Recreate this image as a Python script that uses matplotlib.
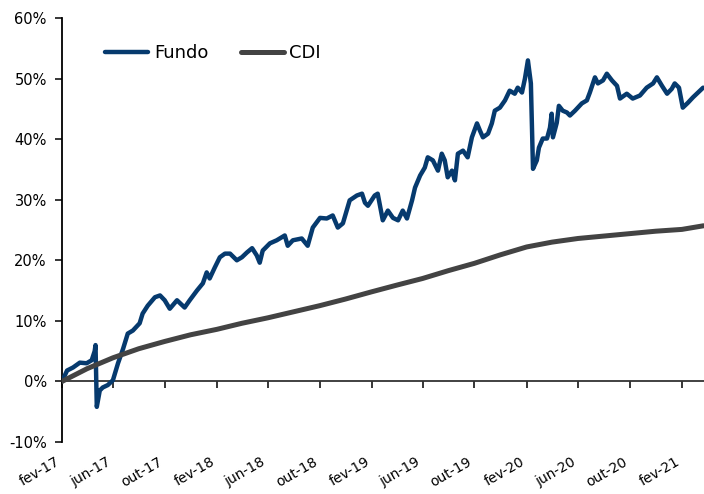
#!/usr/bin/env python3

import numpy as np
import pandas as pd
import matplotlib
matplotlib.use('Agg')
import matplotlib.pyplot as plt
import matplotlib.dates as mdates
from matplotlib.ticker import FuncFormatter, MultipleLocator


# cumulative return of the fund (%)
fundo_dates = [
    '2017-02-01', '2017-02-13', '2017-02-27', '2017-03-15', '2017-03-31', '2017-04-12',
    '2017-04-19', '2017-04-21', '2017-04-24', '2017-05-01', '2017-05-08', '2017-05-20',
    '2017-06-01', '2017-06-13', '2017-06-25', '2017-07-06', '2017-07-18', '2017-08-03',
    '2017-08-10', '2017-08-22', '2017-09-08', '2017-09-20', '2017-10-01', '2017-10-13',
    '2017-10-30', '2017-11-17', '2017-11-29', '2017-12-16', '2017-12-30', '2018-01-08',
    '2018-01-15', '2018-01-27', '2018-02-08', '2018-02-20', '2018-03-04', '2018-03-20',
    '2018-04-01', '2018-04-13', '2018-04-25', '2018-05-06', '2018-05-13', '2018-05-20',
    '2018-06-06', '2018-06-22', '2018-07-11', '2018-07-18', '2018-07-30', '2018-08-20',
    '2018-09-03', '2018-09-15', '2018-10-02', '2018-10-18', '2018-11-01', '2018-11-13',
    '2018-11-25', '2018-12-11', '2018-12-28', '2019-01-09', '2019-01-16', '2019-01-23',
    '2019-02-08', '2019-02-15', '2019-02-27', '2019-03-11', '2019-03-23', '2019-04-04',
    '2019-04-15', '2019-04-25', '2019-05-07', '2019-05-14', '2019-05-26', '2019-06-06',
    '2019-06-13', '2019-06-25', '2019-07-07', '2019-07-16', '2019-07-23', '2019-07-30',
    '2019-08-09', '2019-08-16', '2019-08-23', '2019-09-04', '2019-09-15', '2019-09-25',
    '2019-10-07', '2019-10-14', '2019-10-21', '2019-11-02', '2019-11-11', '2019-11-18',
    '2019-11-30', '2019-12-12', '2019-12-23', '2020-01-04', '2020-01-11', '2020-01-21',
    '2020-01-28', '2020-02-04', '2020-02-11', '2020-02-16', '2020-02-25', '2020-03-01',
    '2020-03-10', '2020-03-20', '2020-03-27', '2020-03-31', '2020-04-03', '2020-04-12',
    '2020-04-17', '2020-04-26', '2020-05-06', '2020-05-13', '2020-05-25', '2020-06-10',
    '2020-06-22', '2020-06-29', '2020-07-11', '2020-07-18', '2020-07-30', '2020-08-08',
    '2020-08-20', '2020-09-01', '2020-09-08', '2020-09-24', '2020-10-08', '2020-10-25',
    '2020-11-10', '2020-11-25', '2020-12-04', '2020-12-16', '2020-12-28', '2021-01-08',
    '2021-01-15', '2021-01-25', '2021-02-03', '2021-02-15', '2021-02-27', '2021-03-11',
    '2021-03-23',
]
fundo_values = [
    0.0, 1.8, 2.3, 3.1, 3.0, 3.5,
    5.0, 6.0, -4.2, -1.5, -1.0, -0.6,
    0.2, 3.0, 5.4, 7.9, 8.4, 9.6,
    11.2, 12.5, 13.9, 14.2, 13.4, 12.0,
    13.4, 12.2, 13.4, 15.0, 16.2, 18.0,
    17.0, 18.8, 20.5, 21.1, 21.1, 20.0,
    20.5, 21.3, 22.0, 20.8, 19.6, 21.6,
    22.8, 23.3, 24.1, 22.4, 23.3, 23.6,
    22.4, 25.4, 27.0, 26.9, 27.4, 25.4,
    26.1, 29.9, 30.7, 31.0, 29.5, 29.0,
    30.7, 31.0, 26.6, 28.2, 27.0, 26.6,
    28.2, 26.9, 29.9, 32.0, 34.0, 35.3,
    37.0, 36.5, 34.8, 37.6, 36.5, 33.7,
    34.8, 33.2, 37.6, 38.1, 37.0, 40.3,
    42.6, 41.4, 40.3, 40.9, 42.6, 44.7,
    45.2, 46.4, 48.0, 47.5, 48.5, 47.7,
    50.0, 53.0, 49.2, 35.1, 36.5, 38.6,
    40.1, 40.1, 41.9, 44.2, 40.3, 42.7,
    45.5, 44.7, 44.4, 43.9, 44.7, 45.9,
    46.4, 47.7, 50.2, 49.2, 49.7, 50.8,
    49.7, 48.8, 46.7, 47.5, 46.7, 47.2,
    48.5, 49.2, 50.2, 48.8, 47.5, 48.3,
    49.2, 48.5, 45.2, 46.0, 46.9, 47.7,
    48.5,
]

# cumulative CDI (%)
cdi_dates = [
    '2017-02-01', '2017-04-01', '2017-06-01', '2017-08-01', '2017-10-01', '2017-12-01',
    '2018-02-01', '2018-04-01', '2018-06-01', '2018-08-01', '2018-10-01', '2018-12-01',
    '2019-02-01', '2019-04-01', '2019-06-01', '2019-08-01', '2019-10-01', '2019-12-01',
    '2020-02-01', '2020-04-01', '2020-06-01', '2020-08-01', '2020-10-01', '2020-12-01',
    '2021-02-01', '2021-03-24',
]
cdi_values = [
    0.0, 2.1, 3.9, 5.4, 6.6, 7.7,
    8.6, 9.6, 10.5, 11.5, 12.5, 13.6,
    14.8, 15.9, 17.0, 18.3, 19.5, 20.9,
    22.2, 23.0, 23.6, 24.0, 24.4, 24.8,
    25.1, 25.7,
]

tick_dates = ['2017-02-01', '2017-06-01', '2017-10-01', '2018-02-01', '2018-06-01',
              '2018-10-01', '2019-02-01', '2019-06-01', '2019-10-01', '2020-02-01',
              '2020-06-01', '2020-10-01', '2021-02-01']
tick_labels = ['fev-17', 'jun-17', 'out-17', 'fev-18', 'jun-18', 'out-18', 'fev-19',
               'jun-19', 'out-19', 'fev-20', 'jun-20', 'out-20', 'fev-21']


def main():
    plt.rcParams['axes.unicode_minus'] = False
    plt.rcParams['font.family'] = ['DejaVu Sans']

    fig = plt.figure(figsize=(7.04, 4.94), dpi=100)
    ax = fig.add_axes([62 / 704, 52 / 494, 642 / 704, 424 / 494])

    ax.plot(pd.to_datetime(fundo_dates), fundo_values, color='#063a6e', lw=3.2,
            solid_joinstyle='round', solid_capstyle='round', label='Fundo', zorder=3)
    ax.plot(pd.to_datetime(cdi_dates), cdi_values, color='#434343', lw=3.6,
            solid_capstyle='round', label='CDI', zorder=3)

    ax.set_xlim(pd.Timestamp('2017-02-01'), pd.Timestamp('2021-03-25'))
    ax.set_ylim(-10, 60)
    ax.yaxis.set_major_locator(MultipleLocator(10))
    ax.yaxis.set_major_formatter(FuncFormatter(lambda v, p: '{:.0f}%'.format(v)))

    for s in ['top', 'right']:
        ax.spines[s].set_visible(False)
    ax.spines['left'].set_linewidth(1.3)
    ax.spines['bottom'].set_position(('data', 0))
    ax.spines['bottom'].set_color('#333333')
    ax.spines['bottom'].set_linewidth(1.3)

    ticks = pd.to_datetime(tick_dates)
    ax.set_xticks(ticks)
    ax.tick_params(axis='x', direction='out', length=5, width=1.1, labelbottom=False)
    ax.tick_params(axis='y', direction='out', length=5, width=1.1, labelsize=10.5, pad=6)

    # labels sit under the plot, the axis line itself is at 0%
    sec = ax.secondary_xaxis(0.0)
    sec.set_xticks(ticks, tick_labels)
    sec.spines['bottom'].set_visible(False)
    sec.tick_params(length=0, pad=9, labelsize=10)
    for lbl in sec.get_xticklabels():
        lbl.set_rotation(30)
        lbl.set_ha('right')

    ax.legend(loc='center left', bbox_to_anchor=(0.067, 0.917), ncol=2, frameon=False,
              fontsize=13, handlelength=2.4, handletextpad=0.3, columnspacing=1.8,
              borderpad=0, borderaxespad=0)

    fig.savefig('out.png', dpi=100)


if __name__ == "__main__":
    main()
